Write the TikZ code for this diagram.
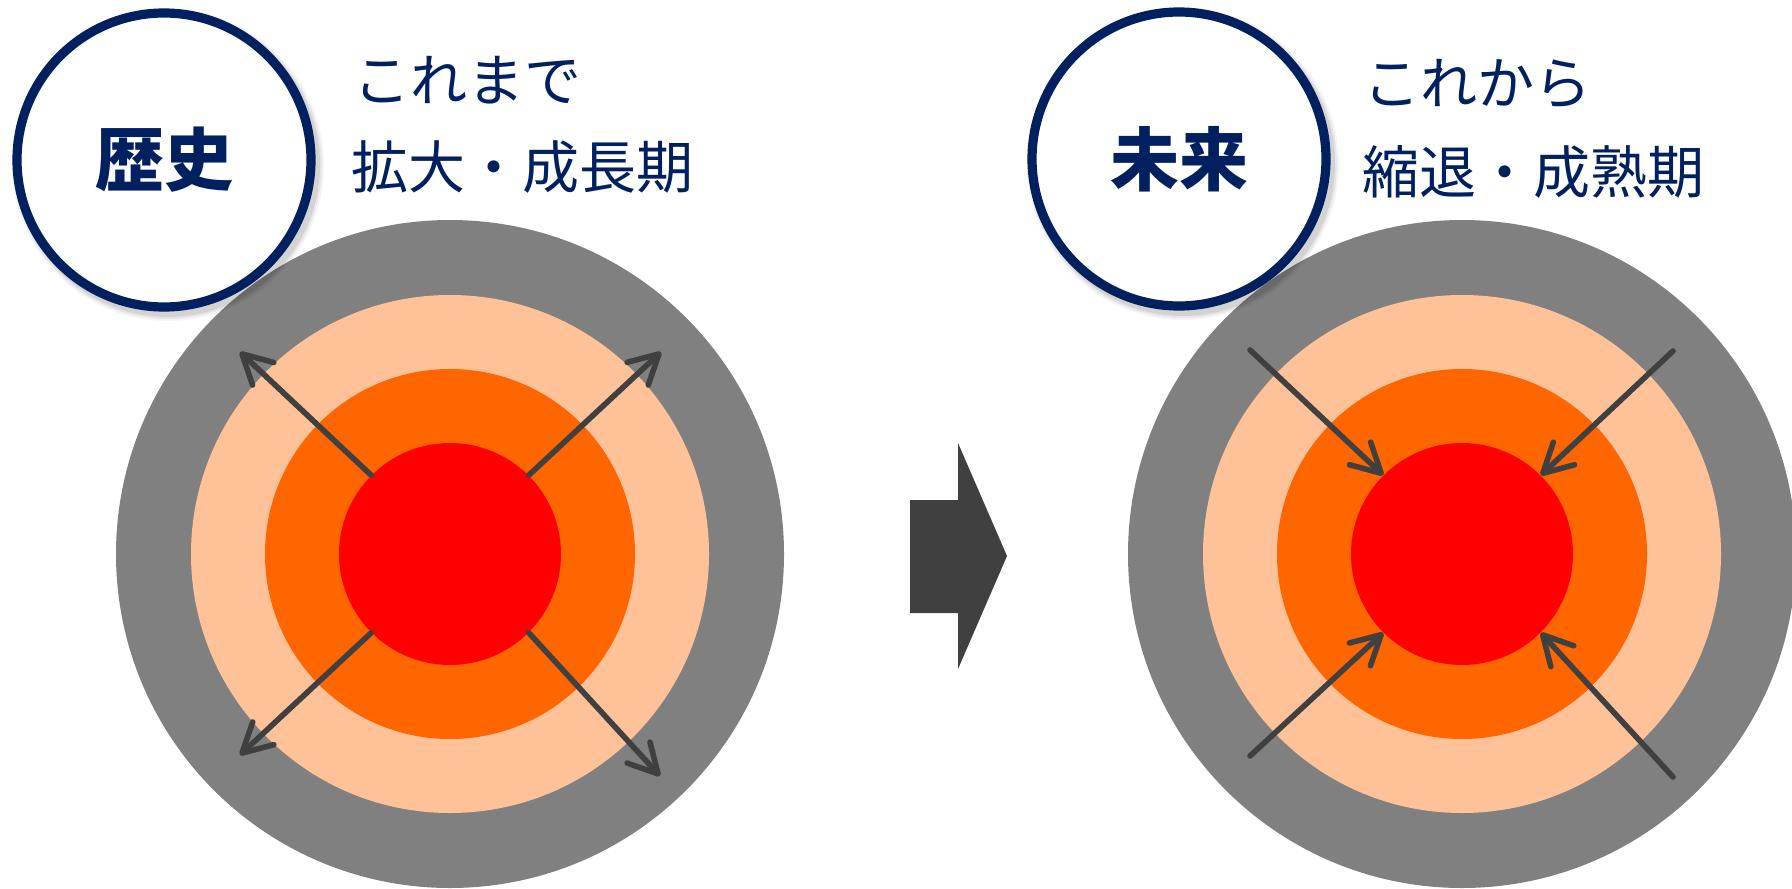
\documentclass[tikz,border=0pt]{standalone}
\usepackage{fontspec}
\newfontfamily\jp{Noto Sans CJK JP}
\usetikzlibrary{arrows.meta}
\definecolor{navy}{HTML}{002060}
\definecolor{ringgray}{HTML}{808080}
\definecolor{peach}{HTML}{FFC197}
\definecolor{midorange}{HTML}{FF6600}
\definecolor{corered}{HTML}{FF0000}
\definecolor{arrowgray}{HTML}{404040}
\tikzset{
  disc/.style={circle, inner sep=0pt, draw=none},
  labelcirc/.style={circle, inner sep=0pt, minimum size=147pt, draw=navy, line width=4.6pt, fill=white,
    text=navy, font=\jp\bfseries\fontsize{34.5}{34.5}\selectfont},
  jptext/.style={anchor=west, inner sep=0pt, text=navy, font=\jp\fontsize{28.5}{28.5}\selectfont},
  flow/.style={draw=arrowgray, line width=2.8pt, line cap=round,
    -{Straight Barb[length=14.5pt, width=15.5pt, round]}},
  bigarrow/.style={fill=arrowgray, draw=none}
}
\begin{document}
\begin{tikzpicture}[x=0.5pt,y=-0.5pt]
\useasboundingbox (0,0) rectangle (1792,888);
\fill[white] (0,0) rectangle (1792,888);

% left target
\node[disc, fill=ringgray, minimum size=334pt] (grayL) at (450,554) {};
\node[disc, fill=peach, minimum size=259pt] (peachL) at (450,554) {};
\node[disc, fill=midorange, minimum size=185pt] (orangeL) at (450,554) {};
\node[disc, fill=corered, minimum size=111pt] (redL) at (450,554) {};

% right target
\node[disc, fill=ringgray, minimum size=334pt] (grayR) at (1462,554) {};
\node[disc, fill=peach, minimum size=259pt] (peachR) at (1462,554) {};
\node[disc, fill=midorange, minimum size=185pt] (orangeR) at (1462,554) {};
\node[disc, fill=corered, minimum size=111pt] (redR) at (1462,554) {};

% arrow end points
\coordinate (L1) at (240,352);
\coordinate (L2) at (661,352);
\coordinate (L3) at (240,755);
\coordinate (L4) at (660,776);
\coordinate (R1) at (1250,350);
\coordinate (R2) at (1673,351);
\coordinate (R3) at (1250,756);
\coordinate (R4) at (1673,777);

\draw[flow] (redL.135) -- (L1);
\draw[flow] (redL.45) -- (L2);
\draw[flow] (redL.225) -- (L3);
\draw[flow] (redL.315) -- (L4);

\draw[flow] (R1) -- (redR.135);
\draw[flow] (R2) -- (redR.45);
\draw[flow] (R3) -- (redR.225);
\draw[flow] (R4) -- (redR.315);

% big transition arrow
\fill[bigarrow] (910,500) -- (958,500) -- (958,443) -- (1007,556) -- (958,669) -- (958,613) -- (910,613) -- cycle;

% shadows of label circles
\foreach \cx/\cy in {164/160, 1179/159}{
  \foreach \r/\o in {156/0.04, 154/0.06, 152/0.08}{
    \fill[black, opacity=\o] (\cx+4,\cy+5) circle[radius=\r*0.5pt];
  }
}

% label circles
\node[labelcirc] (hist) at (164,160) {歴史};
\node[labelcirc] (fut) at (1179,159) {未来};

% texts
\node[jptext] (t1) at (353,80) {これまで};
\node[jptext] (t2) at (351,167) {拡大・成長期};
\node[jptext] (t3) at (1363,84) {これから};
\node[jptext] (t4) at (1362,172) {縮退・成熟期};
\end{tikzpicture}
\end{document}
